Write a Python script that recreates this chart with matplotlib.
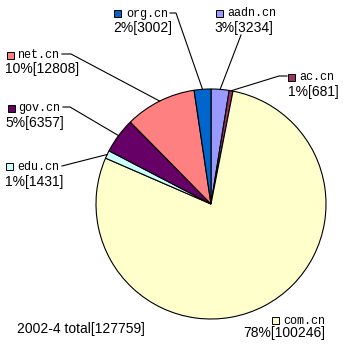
# 2002-4 .cn domain counts, pie with labels and leader lines
import numpy as np
import matplotlib
matplotlib.use("Agg")
import matplotlib.pyplot as plt
from matplotlib.patches import Rectangle

# data (clockwise from top)
names = ["aadn.cn", "ac.cn", "com.cn", "edu.cn", "gov.cn", "net.cn", "org.cn"]
counts = [3234, 681, 100246, 1431, 6357, 12808, 3002]
percents = ["3%", "1%", "78%", "1%", "5%", "10%", "2%"]
colors = ["#9999FF", "#993366", "#FFFFCC", "#CCFFFF", "#660066", "#FF8080", "#0066CC"]
total_label = "2002-4 total[127759]"

W, H = 343, 345
fig = plt.figure(figsize=(W / 100, H / 100), dpi=100)
ax = fig.add_axes([0, 0, 1, 1])

def P(x, y):
    # pixel (top-left origin) -> data coords
    return x, H - y

cx, cy = P(211, 204)
R = 115
wedges, _ = ax.pie(counts, colors=colors, startangle=90, counterclock=False,
                   center=(cx, cy), radius=R,
                   wedgeprops=dict(edgecolor="black", linewidth=0.8))
ax.set_xlim(0, W)
ax.set_ylim(0, H)
ax.set_aspect("equal")
ax.axis("off")

# label layout: square pos, name pos, number line pos, leader start points
layout = {
    "org.cn":  dict(sq=(114, 10), nm=(126, 13.5), nb=(113, 28), lead=[(170, 13), (176, 13)]),
    "aadn.cn": dict(sq=(216, 10), nm=(227, 13.5), nb=(214, 28), lead=[(241, 35)]),
    "ac.cn":   dict(sq=(288, 74), nm=(299, 77.5), nb=(288, 92), lead=[(287, 76), (279, 76)]),
    "net.cn":  dict(sq=(7, 52), nm=(17, 55), nb=(5, 69.5), lead=[(62, 54), (71, 54)]),
    "gov.cn":  dict(sq=(8, 105), nm=(18, 108.5), nb=(5, 123), lead=[(63, 107), (70, 107)]),
    "edu.cn":  dict(sq=(6, 163), nm=(17, 166.5), nb=(5, 182), lead=[(62, 166)]),
    "com.cn":  dict(sq=(272, 317), nm=(283, 320.5), nb=(243, 333.5), lead=None),
}

for w, name, cnt, pct, col in zip(wedges, names, counts, percents, colors):
    L = layout[name]
    sx, sy = P(*L["sq"])
    ax.add_patch(Rectangle((sx, sy - 7), 7, 7, facecolor=col, edgecolor="black", lw=0.7))
    ax.text(*P(*L["nm"]), name, family="Liberation Mono", fontsize=8.5,
            ha="left", va="center")
    ax.text(*P(*L["nb"]), "%s[%d]" % (pct, cnt), family="Liberation Sans",
            fontsize=10, ha="left", va="center")
    if L["lead"]:
        mid = np.radians((w.theta1 + w.theta2) / 2)
        ex, ey = cx + R * np.cos(mid), cy + R * np.sin(mid)
        pts = [P(*p) for p in L["lead"]] + [(ex, ey)]
        xs, ys = zip(*pts)
        ax.plot(xs, ys, color="black", lw=0.8)

ax.text(*P(17, 329.5), total_label, family="Liberation Sans", fontsize=10,
        ha="left", va="center")

plt.savefig("out.png", dpi=100)
